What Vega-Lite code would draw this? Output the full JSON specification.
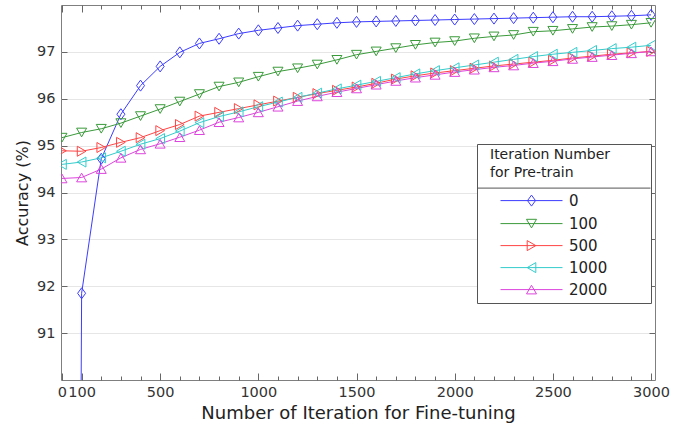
{
  "$schema": "https://vega.github.io/schema/vega-lite/v6.json",
  "width": 594,
  "height": 375,
  "autosize": "none",
  "padding": {"left": 61, "top": 5, "right": 32, "bottom": 45},
  "background": "white",
  "config": {
    "font": "DejaVu Sans",
    "view": {"stroke": "#7f7f7f", "strokeWidth": 1},
    "axis": {
      "labelFont": "DejaVu Sans", "titleFont": "DejaVu Sans",
      "labelColor": "#333333", "titleColor": "#222222",
      "labelFontSize": 14.5, "titleFontSize": 17, "titleFontWeight": "normal",
      "domain": false, "tickColor": "#666666", "gridColor": "#e6e6e6", "tickWidth": 1
    }
  },
  "data": {"values": [
    {"it":0,"pre":"0","acc":10},{"it":100,"pre":"0","acc":91.85},{"it":200,"pre":"0","acc":94.72},{"it":300,"pre":"0","acc":95.67},{"it":400,"pre":"0","acc":96.28},{"it":500,"pre":"0","acc":96.69},{"it":600,"pre":"0","acc":96.99},{"it":700,"pre":"0","acc":97.18},{"it":800,"pre":"0","acc":97.28},{"it":900,"pre":"0","acc":97.39},{"it":1000,"pre":"0","acc":97.46},{"it":1100,"pre":"0","acc":97.51},{"it":1200,"pre":"0","acc":97.56},{"it":1300,"pre":"0","acc":97.59},{"it":1400,"pre":"0","acc":97.62},{"it":1500,"pre":"0","acc":97.64},{"it":1600,"pre":"0","acc":97.65},{"it":1700,"pre":"0","acc":97.66},{"it":1800,"pre":"0","acc":97.67},{"it":1900,"pre":"0","acc":97.68},{"it":2000,"pre":"0","acc":97.69},{"it":2100,"pre":"0","acc":97.70},{"it":2200,"pre":"0","acc":97.71},{"it":2300,"pre":"0","acc":97.72},{"it":2400,"pre":"0","acc":97.73},{"it":2500,"pre":"0","acc":97.74},{"it":2600,"pre":"0","acc":97.75},{"it":2700,"pre":"0","acc":97.75},{"it":2800,"pre":"0","acc":97.76},{"it":2900,"pre":"0","acc":97.77},{"it":3000,"pre":"0","acc":97.79},
    {"it":0,"pre":"100","acc":95.17},{"it":100,"pre":"100","acc":95.28},{"it":200,"pre":"100","acc":95.36},{"it":300,"pre":"100","acc":95.48},{"it":400,"pre":"100","acc":95.63},{"it":500,"pre":"100","acc":95.78},{"it":600,"pre":"100","acc":95.94},{"it":700,"pre":"100","acc":96.10},{"it":800,"pre":"100","acc":96.26},{"it":900,"pre":"100","acc":96.35},{"it":1000,"pre":"100","acc":96.47},{"it":1100,"pre":"100","acc":96.58},{"it":1200,"pre":"100","acc":96.65},{"it":1300,"pre":"100","acc":96.73},{"it":1400,"pre":"100","acc":96.83},{"it":1500,"pre":"100","acc":96.94},{"it":1600,"pre":"100","acc":97.01},{"it":1700,"pre":"100","acc":97.08},{"it":1800,"pre":"100","acc":97.15},{"it":1900,"pre":"100","acc":97.20},{"it":2000,"pre":"100","acc":97.23},{"it":2100,"pre":"100","acc":97.29},{"it":2200,"pre":"100","acc":97.33},{"it":2300,"pre":"100","acc":97.36},{"it":2400,"pre":"100","acc":97.43},{"it":2500,"pre":"100","acc":97.45},{"it":2600,"pre":"100","acc":97.49},{"it":2700,"pre":"100","acc":97.53},{"it":2800,"pre":"100","acc":97.55},{"it":2900,"pre":"100","acc":97.58},{"it":3000,"pre":"100","acc":97.62},
    {"it":0,"pre":"500","acc":94.89},{"it":100,"pre":"500","acc":94.88},{"it":200,"pre":"500","acc":94.96},{"it":300,"pre":"500","acc":95.07},{"it":400,"pre":"500","acc":95.17},{"it":500,"pre":"500","acc":95.32},{"it":600,"pre":"500","acc":95.45},{"it":700,"pre":"500","acc":95.63},{"it":800,"pre":"500","acc":95.71},{"it":900,"pre":"500","acc":95.79},{"it":1000,"pre":"500","acc":95.87},{"it":1100,"pre":"500","acc":95.95},{"it":1200,"pre":"500","acc":96.03},{"it":1300,"pre":"500","acc":96.11},{"it":1400,"pre":"500","acc":96.18},{"it":1500,"pre":"500","acc":96.25},{"it":1600,"pre":"500","acc":96.33},{"it":1700,"pre":"500","acc":96.42},{"it":1800,"pre":"500","acc":96.49},{"it":1900,"pre":"500","acc":96.55},{"it":2000,"pre":"500","acc":96.60},{"it":2100,"pre":"500","acc":96.65},{"it":2200,"pre":"500","acc":96.70},{"it":2300,"pre":"500","acc":96.74},{"it":2400,"pre":"500","acc":96.78},{"it":2500,"pre":"500","acc":96.82},{"it":2600,"pre":"500","acc":96.87},{"it":2700,"pre":"500","acc":96.91},{"it":2800,"pre":"500","acc":96.95},{"it":2900,"pre":"500","acc":96.98},{"it":3000,"pre":"500","acc":97.01},
    {"it":0,"pre":"1000","acc":94.60},{"it":100,"pre":"1000","acc":94.65},{"it":200,"pre":"1000","acc":94.74},{"it":300,"pre":"1000","acc":94.88},{"it":400,"pre":"1000","acc":95.03},{"it":500,"pre":"1000","acc":95.15},{"it":600,"pre":"1000","acc":95.31},{"it":700,"pre":"1000","acc":95.49},{"it":800,"pre":"1000","acc":95.62},{"it":900,"pre":"1000","acc":95.72},{"it":1000,"pre":"1000","acc":95.83},{"it":1100,"pre":"1000","acc":95.93},{"it":1200,"pre":"1000","acc":96.03},{"it":1300,"pre":"1000","acc":96.12},{"it":1400,"pre":"1000","acc":96.21},{"it":1500,"pre":"1000","acc":96.29},{"it":1600,"pre":"1000","acc":96.37},{"it":1700,"pre":"1000","acc":96.45},{"it":1800,"pre":"1000","acc":96.53},{"it":1900,"pre":"1000","acc":96.60},{"it":2000,"pre":"1000","acc":96.66},{"it":2100,"pre":"1000","acc":96.72},{"it":2200,"pre":"1000","acc":96.78},{"it":2300,"pre":"1000","acc":96.84},{"it":2400,"pre":"1000","acc":96.90},{"it":2500,"pre":"1000","acc":96.95},{"it":2600,"pre":"1000","acc":96.99},{"it":2700,"pre":"1000","acc":97.03},{"it":2800,"pre":"1000","acc":97.07},{"it":2900,"pre":"1000","acc":97.10},{"it":3000,"pre":"1000","acc":97.14},
    {"it":0,"pre":"2000","acc":94.30},{"it":100,"pre":"2000","acc":94.32},{"it":200,"pre":"2000","acc":94.50},{"it":300,"pre":"2000","acc":94.74},{"it":400,"pre":"2000","acc":94.92},{"it":500,"pre":"2000","acc":95.04},{"it":600,"pre":"2000","acc":95.18},{"it":700,"pre":"2000","acc":95.33},{"it":800,"pre":"2000","acc":95.50},{"it":900,"pre":"2000","acc":95.60},{"it":1000,"pre":"2000","acc":95.71},{"it":1100,"pre":"2000","acc":95.83},{"it":1200,"pre":"2000","acc":95.95},{"it":1300,"pre":"2000","acc":96.05},{"it":1400,"pre":"2000","acc":96.14},{"it":1500,"pre":"2000","acc":96.22},{"it":1600,"pre":"2000","acc":96.30},{"it":1700,"pre":"2000","acc":96.38},{"it":1800,"pre":"2000","acc":96.45},{"it":1900,"pre":"2000","acc":96.51},{"it":2000,"pre":"2000","acc":96.57},{"it":2100,"pre":"2000","acc":96.62},{"it":2200,"pre":"2000","acc":96.67},{"it":2300,"pre":"2000","acc":96.71},{"it":2400,"pre":"2000","acc":96.76},{"it":2500,"pre":"2000","acc":96.80},{"it":2600,"pre":"2000","acc":96.85},{"it":2700,"pre":"2000","acc":96.89},{"it":2800,"pre":"2000","acc":96.93},{"it":2900,"pre":"2000","acc":96.97},{"it":3000,"pre":"2000","acc":97.01}
  ]},
  "layer": [
    {
      "mark": {"type": "line", "strokeWidth": 1, "clip": true},
      "encoding": {
        "x": {
          "field": "it", "type": "quantitative",
          "scale": {"domain": [-5, 3020], "nice": false, "zero": false},
          "axis": {
            "orient": "bottom", "format": "d",
            "values": [0,100,200,300,400,500,600,700,800,900,1000,1100,1200,1300,1400,1500,1600,1700,1800,1900,2000,2100,2200,2300,2400,2500,2600,2700,2800,2900,3000],
            "tickSize": {"condition": {"test": "datum.value % 500 === 0 || datum.value === 100", "value": -7}, "value": -4},
            "labelExpr": "(datum.value % 500 === 0 || datum.value === 100) ? datum.label : ''",
            "labelOverlap": false, "labelFlush": false, "labelPadding": 12,
            "grid": false,
            "title": "Number of Iteration for Fine-tuning", "titlePadding": 3, "titleFontSize": 18
          }
        },
        "y": {
          "field": "acc", "type": "quantitative",
          "scale": {"domain": [90, 98], "nice": false, "zero": false},
          "axis": {
            "orient": "left", "values": [91,92,93,94,95,96,97],
            "tickSize": -6, "labelPadding": 12, "grid": true,
            "title": "Accuracy (%)", "titlePadding": 6, "titleFontSize": 16
          }
        },
        "color": {
          "field": "pre", "type": "nominal",
          "scale": {"domain": ["0","100","500","1000","2000"], "range": ["#3c3cff","#3a9a3a","#ff4444","#33cccc","#dd44dd"]},
          "legend": {
            "orient": "none", "legendX": 416, "legendY": 139,
            "title": ["Iteration Number", "for Pre-train"],
            "titleFont": "DejaVu Sans", "titleFontSize": 14, "titleFontWeight": "normal", "titleColor": "#222222",
            "titleLineHeight": 17.6, "titlePadding": 12,
            "labelFont": "DejaVu Sans", "labelFontSize": 15, "labelColor": "#222222",
            "strokeColor": "#555555", "fillColor": "white", "padding": 0,
            "symbolSize": 400, "symbolOffset": 44, "labelOffset": 27, "symbolStrokeWidth": 1, "rowPadding": 0,
            "encode": {
              "title": {"update": {"dx": {"value": 13}, "dy": {"value": 4}}},
              "symbols": {"update": {
                "shape": {"signal": "datum.label === '0' ? 'M-3.1,0H3.1M0,-0.55L0.4,0L0,0.55L-0.4,0Z' : datum.label === '100' ? 'M-3.1,0H3.1M-0.5,-0.43L0.5,-0.43L0,0.43Z' : datum.label === '500' ? 'M-3.1,0H3.1M-0.43,-0.5L0.43,0L-0.43,0.5Z' : datum.label === '1000' ? 'M-3.1,0H3.1M0.43,-0.5L-0.43,0L0.43,0.5Z' : 'M-3.1,0H3.1M-0.5,0.43L0.5,0.43L0,-0.43Z'"},
                "fill": {"value": "transparent"},
                "y": {"value": 13}
              }},
              "labels": {"update": {"y": {"value": 13}}},
              "entries": {"update": {
                "noBound": {"value": false},
                "width": {"value": 173},
                "height": {"signal": "datum.index === 4 ? 26 : 21.7"},
                "stroke": {"value": "#555555"},
                "strokeWidth": {"value": 1},
                "strokeOpacity": {"signal": "datum.index === 0 ? 1 : 0"},
                "strokeDash": {"value": [173, 3000]},
                "fill": {"value": "transparent"}
              }}
            }
          }
        }
      }
    },
    {
      "mark": {"type": "point", "filled": false, "size": 100, "strokeWidth": 1, "clip": true, "opacity": 1},
      "encoding": {
        "x": {
          "field": "it", "type": "quantitative",
          "axis": {
            "orient": "top",
            "values": [0,100,200,300,400,500,600,700,800,900,1000,1100,1200,1300,1400,1500,1600,1700,1800,1900,2000,2100,2200,2300,2400,2500,2600,2700,2800,2900,3000],
            "tickSize": {"condition": {"test": "datum.value % 500 === 0 || datum.value === 100", "value": -7}, "value": -4},
            "labels": false, "grid": false, "title": null
          }
        },
        "y": {
          "field": "acc", "type": "quantitative",
          "axis": {"orient": "right", "values": [91,92,93,94,95,96,97], "tickSize": -6, "labels": false, "grid": false, "title": null}
        },
        "color": {"field": "pre", "type": "nominal", "legend": null},
        "shape": {
          "field": "pre", "type": "nominal",
          "scale": {"domain": ["0","100","500","1000","2000"], "range": ["M0,-1.1L0.8,0L0,1.1L-0.8,0Z","triangle-down","triangle-right","triangle-left","triangle-up"]},
          "legend": null
        }
      }
    }
  ],
  "resolve": {"axis": {"x": "independent", "y": "independent"}, "legend": {"color": "independent", "shape": "independent"}}
}
